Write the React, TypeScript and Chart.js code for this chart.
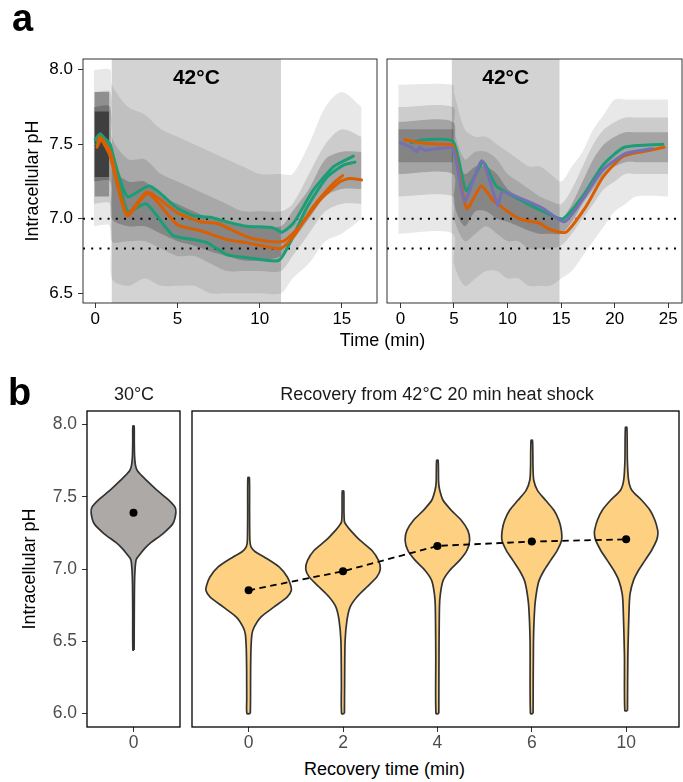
import React, { useEffect, useRef } from "react";
import { Chart, registerables } from "chart.js";
Chart.register(...registerables);

const FONT = "'Liberation Sans', Arial, Helvetica, sans-serif";

// ---------------- Panel a : time courses ----------------
const PH_TICKS_A = [6.5, 7.0, 7.5, 8.0];
const PH_RANGE_A = [6.435, 8.072];
const TIME_TICKS_A1 = [0, 5, 10, 15];
const TIME_RANGE_A1 = [-0.75, 17.14];
const TIME_TICKS_A2 = [0, 5, 10, 15, 20, 25];
const TIME_RANGE_A2 = [-1.25, 26.28];
const HEAT_A1 = [1.0, 11.3];
const HEAT_A2 = [4.8, 14.85];
const HEAT_LABEL = "42°C";
const REF_PH = [7.0, 6.8];

// single-cell cloud envelopes, left experiment
const CLOUD1_T = [-0.1, 0.9, 1.0, 2, 3, 4, 5, 6, 7, 8, 9, 10, 11.3, 12, 13, 14, 15, 16.2];
const CLOUD1_OUT_LO = [6.95, 6.95, 6.6, 6.55, 6.6, 6.55, 6.55, 6.55, 6.5, 6.5, 6.5, 6.5, 6.5, 6.6, 6.7, 6.85, 6.9, 7.0];
const CLOUD1_OUT_HI = [8.0, 8.0, 7.9, 7.75, 7.7, 7.6, 7.55, 7.5, 7.45, 7.4, 7.35, 7.3, 7.3, 7.3, 7.5, 7.75, 7.85, 7.75];
const CLOUD1_MID_LO = [7.1, 7.1, 6.85, 6.85, 6.85, 6.8, 6.75, 6.75, 6.7, 6.65, 6.65, 6.65, 6.65, 6.75, 6.9, 7.05, 7.1, 7.1];
const CLOUD1_MID_HI = [7.85, 7.85, 7.55, 7.4, 7.4, 7.3, 7.25, 7.2, 7.15, 7.1, 7.05, 7.05, 7.05, 7.1, 7.3, 7.5, 7.6, 7.55];
const CLOUD1_CORE_LO = [7.25, 7.25, 7.0, 6.95, 6.95, 6.9, 6.85, 6.82, 6.78, 6.75, 6.72, 6.72, 6.75, 6.85, 7.0, 7.15, 7.2, 7.2];
const CLOUD1_CORE_HI = [7.75, 7.75, 7.35, 7.25, 7.25, 7.15, 7.1, 7.05, 7.0, 6.98, 6.95, 6.95, 6.95, 7.05, 7.2, 7.4, 7.45, 7.45];
const DENSE1_T = [-0.05, 0.85];
const DENSE1_OUT_LO = [7.15, 7.15];
const DENSE1_OUT_HI = [7.85, 7.85];
const DENSE1_IN_LO = [7.28, 7.28];
const DENSE1_IN_HI = [7.72, 7.72];

// single-cell cloud envelopes, right experiment
const CLOUD2_T = [-0.2, 4.9, 5.0, 6, 7, 8, 9, 10, 11, 12, 13, 14, 15, 16, 17, 18, 19, 20, 21, 22, 25];
const CLOUD2_OUT_LO = [6.9, 6.9, 6.7, 6.55, 6.6, 6.65, 6.65, 6.6, 6.6, 6.55, 6.55, 6.55, 6.6, 6.65, 6.75, 6.85, 6.95, 7.05, 7.1, 7.15, 7.15];
const CLOUD2_OUT_HI = [7.9, 7.9, 7.85, 7.6, 7.55, 7.55, 7.5, 7.45, 7.4, 7.35, 7.35, 7.3, 7.25, 7.35, 7.45, 7.6, 7.7, 7.8, 7.8, 7.8, 7.8];
const CLOUD2_MID_LO = [7.15, 7.15, 7.0, 6.85, 6.9, 6.95, 6.9, 6.85, 6.85, 6.8, 6.8, 6.8, 6.82, 6.9, 7.0, 7.1, 7.2, 7.25, 7.3, 7.3, 7.3];
const CLOUD2_MID_HI = [7.75, 7.75, 7.6, 7.4, 7.45, 7.45, 7.4, 7.3, 7.25, 7.2, 7.15, 7.12, 7.1, 7.2, 7.35, 7.5, 7.6, 7.65, 7.68, 7.68, 7.68];
const CLOUD2_CORE_LO = [7.3, 7.3, 7.1, 6.95, 7.05, 7.05, 7.0, 6.98, 6.95, 6.92, 6.9, 6.9, 6.9, 6.98, 7.1, 7.2, 7.3, 7.35, 7.38, 7.38, 7.38];
const CLOUD2_CORE_HI = [7.65, 7.65, 7.45, 7.3, 7.35, 7.35, 7.3, 7.2, 7.15, 7.1, 7.05, 7.03, 7.0, 7.1, 7.25, 7.4, 7.5, 7.55, 7.58, 7.58, 7.58];
const DENSE2_T = [-0.2, 4.9];
const DENSE2_LO = [7.38, 7.38];
const DENSE2_HI = [7.6, 7.6];

// population traces, left experiment
const A1_G1_T = [0.0, 0.3, 0.9, 1.93, 3.3, 5.0, 6.0, 7.0, 8.0, 9.2, 10.8, 11.35, 12.05, 13.25, 14.5, 15.7];
const A1_G1_PH = [7.53, 7.57, 7.48, 7.15, 7.22, 7.07, 7.02, 7.01, 6.98, 6.95, 6.94, 6.91, 6.97, 7.19, 7.35, 7.42];
const A1_G2_T = [0.1, 0.35, 0.9, 1.95, 3.1, 4.7, 6.0, 6.8, 8.0, 9.2, 11.15, 11.85, 12.9, 14.1, 15.1, 15.8];
const A1_G2_PH = [7.5, 7.55, 7.5, 7.05, 7.1, 6.89, 6.86, 6.84, 6.76, 6.74, 6.72, 6.84, 7.08, 7.28, 7.36, 7.38];
const A1_O1_T = [0.15, 0.3, 0.9, 1.93, 3.15, 5.0, 6.4, 7.4, 9.2, 10.45, 11.45, 12.45, 13.7, 14.9, 15.5, 16.2];
const A1_O1_PH = [7.52, 7.55, 7.45, 7.03, 7.18, 7.04, 6.98, 6.97, 6.88, 6.85, 6.85, 6.95, 7.13, 7.25, 7.27, 7.26];
const A1_O2_T = [0.1, 0.35, 0.9, 1.93, 3.2, 5.0, 6.4, 8.0, 9.2, 11.25, 12.05, 13.25, 14.5, 15.05];
const A1_O2_PH = [7.48, 7.53, 7.42, 7.02, 7.17, 6.96, 6.92, 6.86, 6.84, 6.8, 6.88, 7.08, 7.24, 7.29];

// population traces, right experiment
const A2_G_T = [1.0, 2.1, 4.9, 6.15, 7.7, 8.95, 11.1, 13.3, 15.15, 17.0, 18.9, 20.9, 24.5];
const A2_G_PH = [7.51, 7.53, 7.52, 7.19, 7.38, 7.22, 7.13, 7.05, 7.0, 7.15, 7.36, 7.48, 7.5];
const A2_O_T = [0.4, 1.9, 3.5, 4.9, 6.2, 7.55, 8.7, 11.1, 13.0, 13.9, 15.45, 17.3, 18.9, 20.8, 23.3, 24.6];
const A2_O_PH = [7.53, 7.51, 7.5, 7.49, 7.07, 7.22, 7.12, 7.0, 6.97, 6.93, 6.91, 7.08, 7.28, 7.42, 7.46, 7.48];
const A2_P_T = [0, 1.0, 1.5, 1.8, 2.2, 3.4, 4.9, 6.0, 7.6, 9.1, 9.5, 11.1, 13.3, 15.3, 17.0, 18.9, 21.1, 23.5];
const A2_P_PH = [7.51, 7.48, 7.45, 7.48, 7.46, 7.47, 7.47, 7.12, 7.39, 7.09, 7.18, 7.14, 7.07, 6.98, 7.13, 7.33, 7.44, 7.47];

// ---------------- Panel b : violins ----------------
const PH_TICKS_B = [6.0, 6.5, 7.0, 7.5, 8.0];
const PH_RANGE_B = [5.907, 8.094];
const CTRL_LABELS = ["0"];
const CTRL_RANGE = [-0.6, 0.6];
const REC_LABELS = ["0", "2", "4", "6", "10"];
const REC_RANGE = [-0.6, 4.56];
const CTRL_MEAN = [7.39];
const REC_MEAN = [6.853, 6.985, 7.16, 7.19, 7.206];

const CTRL_PH = [6.44, 6.7, 6.9, 6.99, 7.06, 7.08, 7.1, 7.14, 7.18, 7.246, 7.315, 7.39, 7.43, 7.476, 7.545, 7.615, 7.68, 7.72, 7.78, 7.88, 7.99];
const CTRL_W = [0.008, 0.01, 0.013, 0.019, 0.032, 0.05, 0.08, 0.14, 0.216, 0.382, 0.509, 0.547, 0.534, 0.458, 0.305, 0.165, 0.05, 0.025, 0.014, 0.01, 0.008];

const REC0_PH = [6.0, 6.1, 6.3, 6.45, 6.55, 6.6, 6.668, 6.738, 6.807, 6.853, 6.888, 6.945, 7.015, 7.084, 7.12, 7.153, 7.2, 7.4, 7.633];
const REC0_W = [0.018, 0.02, 0.021, 0.025, 0.035, 0.06, 0.13, 0.27, 0.41, 0.453, 0.445, 0.41, 0.323, 0.165, 0.07, 0.025, 0.013, 0.01, 0.008];
const REC1_PH = [6.0, 6.2, 6.5, 6.646, 6.74, 6.807, 6.876, 6.945, 7.0, 7.06, 7.13, 7.2, 7.27, 7.3, 7.326, 7.4, 7.54];
const REC1_W = [0.015, 0.017, 0.022, 0.042, 0.077, 0.147, 0.253, 0.358, 0.395, 0.376, 0.305, 0.179, 0.077, 0.04, 0.016, 0.01, 0.008];
const REC2_PH = [6.0, 6.4, 6.74, 6.83, 6.92, 6.99, 7.06, 7.13, 7.2, 7.268, 7.338, 7.407, 7.476, 7.545, 7.6, 7.753];
const REC2_W = [0.015, 0.017, 0.022, 0.032, 0.06, 0.13, 0.235, 0.313, 0.342, 0.323, 0.253, 0.147, 0.06, 0.025, 0.013, 0.008];
const REC3_PH = [6.0, 6.5, 6.74, 6.85, 6.92, 6.99, 7.06, 7.13, 7.2, 7.27, 7.338, 7.407, 7.476, 7.545, 7.615, 7.7, 7.89];
const REC3_W = [0.014, 0.018, 0.032, 0.053, 0.077, 0.13, 0.2, 0.27, 0.316, 0.313, 0.287, 0.235, 0.147, 0.06, 0.021, 0.013, 0.008];
const REC4_PH = [6.02, 6.4, 6.74, 6.83, 6.92, 6.99, 7.06, 7.13, 7.2, 7.24, 7.27, 7.338, 7.407, 7.476, 7.545, 7.615, 7.75, 7.98];
const REC4_W = [0.014, 0.018, 0.032, 0.042, 0.077, 0.13, 0.2, 0.27, 0.323, 0.336, 0.334, 0.305, 0.253, 0.165, 0.06, 0.026, 0.013, 0.008];

// ---------------- helpers ----------------
const GREEN = "#1b9e77";
const ORANGE = "#d95f02";
const PURPLE = "#7570b3";

const pts = (xs: number[], ys: number[]) => xs.map((x, i) => ({ x, y: ys[i] }));

function band(t: number[], lo: number[], hi: number[], color: string, order: number) {
  const base = { type: "line", pointRadius: 0, borderWidth: 0, borderColor: "rgba(0,0,0,0)", tension: 0.3, order };
  return [
    { ...base, data: pts(t, lo), fill: false },
    { ...base, data: pts(t, hi), fill: "-1", backgroundColor: color },
  ];
}

function trace(t: number[], ph: number[], color: string, order: number) {
  return {
    type: "line", data: pts(t, ph), borderColor: color, borderWidth: 3, pointRadius: 0,
    tension: 0.2, fill: false, borderCapStyle: "round", borderJoinStyle: "round", order,
  };
}

function refLine(range: number[], v: number) {
  return {
    type: "line", data: [{ x: range[0], y: v }, { x: range[1], y: v }], borderColor: "#000",
    borderWidth: 2, borderDash: [2, 6.2], pointRadius: 0, fill: false, order: 20,
  };
}

function violin(center: number, ph: number[], w: number[], fillColor: string) {
  const right = ph.map((p, i) => ({ x: center + w[i], y: p }));
  const left = ph.map((p, i) => ({ x: center - w[i], y: p })).reverse();
  return {
    type: "line", data: [...right, ...left, right[0]], borderColor: "#333", borderWidth: 1.7,
    backgroundColor: fillColor, fill: "shape", pointRadius: 0, tension: 0.25, order: 10,
  };
}

const framePlugin = (color: string, width: number) => ({
  id: "frame",
  afterDraw(chart: any) {
    const { ctx, chartArea: a } = chart;
    ctx.save();
    ctx.strokeStyle = color;
    ctx.lineWidth = width;
    ctx.strokeRect(a.left, a.top, a.right - a.left, a.bottom - a.top);
    ctx.restore();
  },
});

const heatPlugin = (heat: number[]) => ({
  id: "heat",
  beforeDatasetsDraw(chart: any) {
    const { ctx, chartArea: a } = chart;
    const x0 = chart.scales.x.getPixelForValue(heat[0]);
    const x1 = chart.scales.x.getPixelForValue(heat[1]);
    ctx.save();
    ctx.fillStyle = "#d3d3d3";
    ctx.fillRect(x0, a.top, x1 - x0, a.bottom - a.top);
    ctx.restore();
  },
  afterDatasetsDraw(chart: any) {
    const { ctx, chartArea: a } = chart;
    const x0 = chart.scales.x.getPixelForValue(heat[0]);
    const x1 = chart.scales.x.getPixelForValue(heat[1]);
    ctx.save();
    ctx.fillStyle = "#000";
    ctx.font = `bold 21px ${FONT}`;
    ctx.textAlign = "center";
    ctx.textBaseline = "alphabetic";
    ctx.fillText(HEAT_LABEL, (x0 + x1) / 2, a.top + 25);
    ctx.restore();
  },
});

type Box = { x: number; y: number; w: number; h: number };
type Area = { L: number; T: number; R: number; B: number };

function xAxis(range: number[], ticks: number[], labels: ((v: number) => string), color: string, size: number, height: number) {
  return {
    type: "linear", min: range[0], max: range[1],
    afterBuildTicks: (s: any) => { s.ticks = ticks.map((v) => ({ value: v })); },
    afterFit: (s: any) => { s.height = height; },
    ticks: { font: { family: FONT, size }, color, padding: 1, autoSkip: false, maxRotation: 0, callback: (v: any) => labels(Number(v)) },
    grid: { drawOnChartArea: false, drawTicks: true, tickLength: 5, tickColor: "#333", tickWidth: 1 },
    border: { display: false },
  };
}

function yAxis(range: number[], ticks: number[], show: boolean, color: string, size: number, width: number, titlePad: number) {
  return {
    type: "linear", min: range[0], max: range[1], display: show,
    afterBuildTicks: (s: any) => { s.ticks = ticks.map((v) => ({ value: v })); },
    afterFit: (s: any) => { s.width = width; },
    ticks: { font: { family: FONT, size }, color, padding: 5, callback: (v: any) => Number(v).toFixed(1) },
    grid: { drawOnChartArea: false, drawTicks: true, tickLength: 5, tickColor: "#333", tickWidth: 1 },
    border: { display: false },
    title: { display: true, text: "Intracellular pH", color: "#000", font: { family: FONT, size: 18 }, padding: { top: titlePad, bottom: 0 } },
  };
}

function baseOptions(box: Box, area: Area, yShown: boolean, scales: any) {
  return {
    responsive: false, animation: false, devicePixelRatio: 1,
    layout: {
      padding: {
        left: yShown ? 0 : area.L - box.x,
        top: area.T - box.y,
        right: box.x + box.w - area.R,
        bottom: 0,
      },
    },
    plugins: { legend: { display: false }, tooltip: { enabled: false } },
    scales,
  };
}

// ---------------- chart builders ----------------
const BOX_A1: Box = { x: 0, y: 0, w: 383, h: 352 };
const AREA_A1: Area = { L: 83, T: 59, R: 377, B: 303 };
const BOX_A2: Box = { x: 384, y: 0, w: 299, h: 352 };
const AREA_A2: Area = { L: 387, T: 59, R: 682, B: 303 };
const BOX_B1: Box = { x: 0, y: 360, w: 184, h: 392 };
const AREA_B1: Area = { L: 87, T: 411, R: 181, B: 727 };
const BOX_B2: Box = { x: 186, y: 360, w: 497, h: 392 };
const AREA_B2: Area = { L: 192, T: 411, R: 682, B: 727 };

function makeA1() {
  const datasets = [
    ...band(CLOUD1_T, CLOUD1_OUT_LO, CLOUD1_OUT_HI, "rgba(0,0,0,0.09)", 40),
    ...band(CLOUD1_T, CLOUD1_MID_LO, CLOUD1_MID_HI, "rgba(0,0,0,0.12)", 39),
    ...band(CLOUD1_T, CLOUD1_CORE_LO, CLOUD1_CORE_HI, "rgba(0,0,0,0.2)", 38),
    ...band(DENSE1_T, DENSE1_OUT_LO, DENSE1_OUT_HI, "rgba(0,0,0,0.3)", 37),
    ...band(DENSE1_T, DENSE1_IN_LO, DENSE1_IN_HI, "rgba(0,0,0,0.45)", 36),
    ...REF_PH.map((v) => refLine(TIME_RANGE_A1, v)),
    trace(A1_G1_T, A1_G1_PH, GREEN, 4),
    trace(A1_G2_T, A1_G2_PH, GREEN, 3),
    trace(A1_O1_T, A1_O1_PH, ORANGE, 2),
    trace(A1_O2_T, A1_O2_PH, ORANGE, 1),
  ];
  return {
    type: "line",
    data: { datasets },
    options: baseOptions(BOX_A1, AREA_A1, true, {
      x: xAxis(TIME_RANGE_A1, TIME_TICKS_A1, (v) => String(v), "#000", 17, BOX_A1.y + BOX_A1.h - AREA_A1.B),
      y: yAxis(PH_RANGE_A, PH_TICKS_A, true, "#000", 17, AREA_A1.L - BOX_A1.x, 22),
    }),
    plugins: [heatPlugin(HEAT_A1), framePlugin("#333", 1)],
  };
}

function makeA2() {
  const datasets = [
    ...band(CLOUD2_T, CLOUD2_OUT_LO, CLOUD2_OUT_HI, "rgba(0,0,0,0.09)", 40),
    ...band(CLOUD2_T, CLOUD2_MID_LO, CLOUD2_MID_HI, "rgba(0,0,0,0.12)", 39),
    ...band(CLOUD2_T, CLOUD2_CORE_LO, CLOUD2_CORE_HI, "rgba(0,0,0,0.2)", 38),
    ...band(DENSE2_T, DENSE2_LO, DENSE2_HI, "rgba(0,0,0,0.2)", 37),
    ...REF_PH.map((v) => refLine(TIME_RANGE_A2, v)),
    trace(A2_G_T, A2_G_PH, GREEN, 3),
    trace(A2_O_T, A2_O_PH, ORANGE, 2),
    trace(A2_P_T, A2_P_PH, PURPLE, 1),
  ];
  return {
    type: "line",
    data: { datasets },
    options: baseOptions(BOX_A2, AREA_A2, false, {
      x: xAxis(TIME_RANGE_A2, TIME_TICKS_A2, (v) => String(v), "#000", 17, BOX_A2.y + BOX_A2.h - AREA_A2.B),
      y: yAxis(PH_RANGE_A, PH_TICKS_A, false, "#000", 17, 0, 0),
    }),
    plugins: [heatPlugin(HEAT_A2), framePlugin("#333", 1)],
  };
}

function meanDatasets(means: number[]) {
  const data = means.map((m, i) => ({ x: i, y: m }));
  return [
    { type: "line", data, borderColor: "#000", borderWidth: 1.8, borderDash: [6.5, 4.5], pointRadius: 0, fill: false, order: 2 },
    { type: "scatter", data, backgroundColor: "#000", borderWidth: 0, pointRadius: 4, showLine: false, order: 1 },
  ];
}

function makeB1() {
  const datasets = [violin(0, CTRL_PH, CTRL_W, "#aca9a6"), ...meanDatasets(CTRL_MEAN).slice(1)];
  return {
    type: "line",
    data: { datasets },
    options: baseOptions(BOX_B1, AREA_B1, true, {
      x: xAxis(CTRL_RANGE, CTRL_LABELS.map((_, i) => i), (v) => CTRL_LABELS[Math.round(v)], "#4d4d4d", 17.5, BOX_B1.y + BOX_B1.h - AREA_B1.B),
      y: yAxis(PH_RANGE_B, PH_TICKS_B, true, "#4d4d4d", 17.5, AREA_B1.L - BOX_B1.x, 19),
    }),
    plugins: [framePlugin("#000", 1.3)],
  };
}

function makeB2() {
  const VIOLINS = [[REC0_PH, REC0_W], [REC1_PH, REC1_W], [REC2_PH, REC2_W], [REC3_PH, REC3_W], [REC4_PH, REC4_W]];
  const datasets = [
    ...VIOLINS.map(([p, w], i) => violin(i, p, w, "#fdd181")),
    ...meanDatasets(REC_MEAN),
  ];
  return {
    type: "line",
    data: { datasets },
    options: baseOptions(BOX_B2, AREA_B2, false, {
      x: xAxis(REC_RANGE, REC_LABELS.map((_, i) => i), (v) => REC_LABELS[Math.round(v)], "#4d4d4d", 17.5, BOX_B2.y + BOX_B2.h - AREA_B2.B),
      y: yAxis(PH_RANGE_B, PH_TICKS_B, false, "#4d4d4d", 17.5, 0, 0),
    }),
    plugins: [framePlugin("#000", 1.3)],
  };
}

function ChartBox({ box, make }: { box: Box; make: () => any }) {
  const ref = useRef<HTMLCanvasElement>(null);
  useEffect(() => {
    const chart = new Chart(ref.current as HTMLCanvasElement, make());
    return () => chart.destroy();
  }, []);
  return (
    <canvas
      ref={ref}
      width={box.w}
      height={box.h}
      style={{ position: "absolute", left: box.x, top: box.y, width: box.w, height: box.h }}
    />
  );
}

function Text({ x, y, size, bold, color, center, children }: any) {
  return (
    <div
      style={{
        position: "absolute", left: x, top: y, fontFamily: FONT, fontSize: size, lineHeight: 1,
        fontWeight: bold ? 700 : 400, color: color || "#000", whiteSpace: "nowrap",
        transform: center ? "translateX(-50%)" : undefined,
      }}
    >
      {children}
    </div>
  );
}

export default function App() {
  return (
    <div style={{ position: "absolute", left: 0, top: 0, width: 683, height: 782, background: "#fff", overflow: "hidden" }}>
      <ChartBox box={BOX_A1} make={makeA1} />
      <ChartBox box={BOX_A2} make={makeA2} />
      <ChartBox box={BOX_B1} make={makeB1} />
      <ChartBox box={BOX_B2} make={makeB2} />
      <Text x={12} y={-1} size={38} bold>a</Text>
      <Text x={8} y={373} size={38} bold>b</Text>
      <Text x={382.5} y={331} size={18} center>Time (min)</Text>
      <Text x={134} y={385} size={18} color="#1a1a1a" center>30°C</Text>
      <Text x={437} y={385} size={18} color="#1a1a1a" center>Recovery from 42°C 20 min heat shock</Text>
      <Text x={384.5} y={760} size={18} center>Recovery time (min)</Text>
    </div>
  );
}
